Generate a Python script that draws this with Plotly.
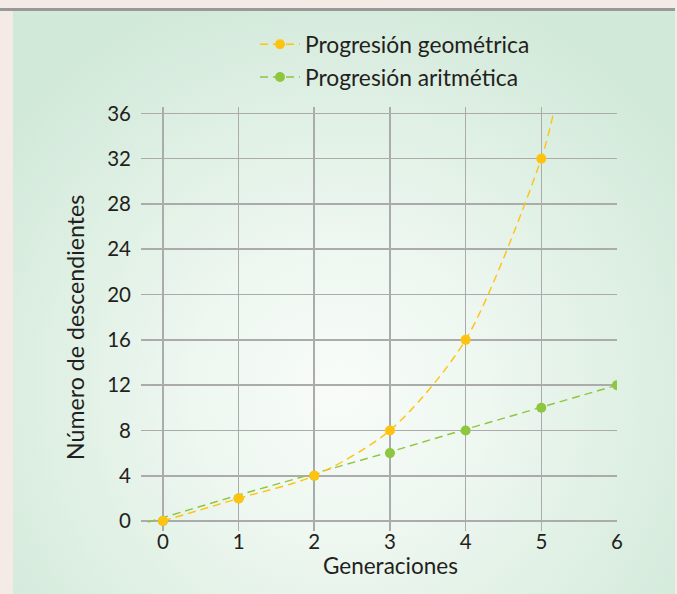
import base64
import plotly.graph_objects as go

# ---- data ----
generaciones = [0, 1, 2, 3, 4, 5, 6]
geo_x = [0, 1, 2, 3, 4, 5]
geo_y = [0, 2, 4, 8, 16, 32]
geo_curve_x = [0, 1, 2, 3, 4, 5, 5.16]
geo_curve_y = [0, 2, 4, 8, 16, 32, 36]
arit_x = [0, 1, 2, 3, 4, 5, 6]
arit_y = [0, 2, 4, 6, 8, 10, 12]
arit_line_x = [-0.2, 0, 1, 2, 3, 4, 5, 6]
arit_line_y = [-0.1, 0.3, 2.3, 4.2, 6.1, 8.1, 10.05, 12]
y_ticks = [0, 4, 8, 12, 16, 20, 24, 28, 32, 36]
x_title = "Generaciones"
y_title = "Número de descendientes"

YELLOW = "#FFC20E"
GREEN = "#8DC63F"
FONT = "Lato"
TXT = "#231f20"

W, H = 677, 594
L, T = 141, 107
pw, ph = 476, 424
R, B = W - L - pw, H - T - ph


def px_x(p):
    return (p - L) / pw


def px_y(p):
    return (H - B - p) / ph


svg = f'''<svg xmlns="http://www.w3.org/2000/svg" width="{W}" height="{H}" viewBox="0 0 {W} {H}">
<defs><radialGradient id="g" gradientUnits="userSpaceOnUse" cx="340" cy="390" r="420">
<stop offset="0" stop-color="#f8fcf9"/><stop offset="0.35" stop-color="#eef7f0"/>
<stop offset="1" stop-color="#d1e9d9"/></radialGradient></defs>
<rect x="0" y="0" width="{W}" height="{H}" fill="#f5ebe6"/>
<rect x="13" y="11" width="662" height="{H}" fill="url(#g)"/>
<rect x="0" y="8" width="675" height="3" fill="#999999"/>
</svg>'''
src = "data:image/svg+xml;base64," + base64.b64encode(svg.encode()).decode()

fig = go.Figure()

# arithmetic
fig.add_trace(go.Scatter(x=arit_line_x, y=arit_line_y, mode="lines",
                         line=dict(color=GREEN, width=1.4, dash="8px,5px"),
                         showlegend=False, hoverinfo="skip"))
fig.add_trace(go.Scatter(x=arit_x, y=arit_y, mode="markers",
                         marker=dict(color=GREEN, size=10), showlegend=False))
# geometric
fig.add_trace(go.Scatter(x=geo_curve_x, y=geo_curve_y, mode="lines",
                         line=dict(color=YELLOW, width=1.4, dash="8px,5px", shape="spline", smoothing=0.8),
                         showlegend=False, hoverinfo="skip"))
fig.add_trace(go.Scatter(x=geo_x, y=geo_y, mode="markers",
                         marker=dict(color=YELLOW, size=10), showlegend=False))

# legend entries
fig.add_trace(go.Scatter(x=[None], y=[None], mode="lines+markers", name="Progresión geométrica",
                         line=dict(color=YELLOW, width=1.4, dash="8px,5px"),
                         marker=dict(color=YELLOW, size=10)))
fig.add_trace(go.Scatter(x=[None], y=[None], mode="lines+markers", name="Progresión aritmética",
                         line=dict(color=GREEN, width=1.4, dash="8px,5px"),
                         marker=dict(color=GREEN, size=10)))

fig.update_layout(
    width=W, height=H,
    margin=dict(l=L, r=R, t=T, b=B, autoexpand=False),
    paper_bgcolor="rgba(0,0,0,0)",
    plot_bgcolor="rgba(0,0,0,0)",
    font=dict(family=FONT, size=18, color=TXT),
    images=[dict(source=src, xref="paper", yref="paper",
                 x=-L / pw, y=(H - B) / ph, sizex=W / pw, sizey=H / ph,
                 xanchor="left", yanchor="top", sizing="stretch", layer="below")],
    legend=dict(x=px_x(255), y=px_y(23), xref="paper", yref="paper",
                xanchor="left", yanchor="top",
                bgcolor="rgba(0,0,0,0)", font=dict(family=FONT, size=22.8, color=TXT),
                itemwidth=40, tracegroupgap=0),
    showlegend=True,
    annotations=[
        dict(text=x_title, xref="paper", yref="paper", x=px_x(390), y=px_y(565),
             xanchor="center", yanchor="middle", showarrow=False,
             font=dict(family=FONT, size=22.5, color=TXT)),
        dict(text=y_title, xref="paper", yref="paper", x=px_x(75), y=px_y(328),
             xanchor="center", yanchor="middle", showarrow=False, textangle=-90,
             font=dict(family=FONT, size=23.2, color=TXT)),
    ],
)

fig.update_xaxes(range=[-0.29, 6.0], tickvals=generaciones, ticktext=[str(v) for v in generaciones],
                 showgrid=True, gridcolor="#ababab", gridwidth=1.6, zeroline=False,
                 showline=False, ticks="", ticklen=0, ticklabelstandoff=-4,
                 tickfont=dict(family=FONT, size=20.5, color=TXT))
fig.update_yaxes(range=[-0.88, 36.56], tickvals=y_ticks, ticktext=[str(v) for v in y_ticks],
                 showgrid=True, gridcolor="#ababab", gridwidth=1.6, zeroline=False,
                 showline=False, ticks="", ticklen=0, ticklabelstandoff=9,
                 tickfont=dict(family=FONT, size=20.5, color=TXT))

fig.write_html("out.html", config={"displayModeBar": False, "staticPlot": True},
               post_script="document.body.style.margin='0';document.body.style.overflow='hidden';")
